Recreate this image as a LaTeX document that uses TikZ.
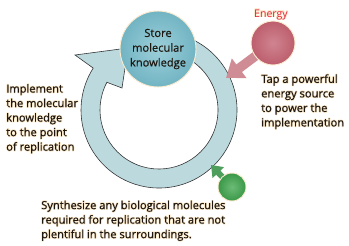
\documentclass[tikz,border=0pt]{standalone}
\usepackage{fontspec}
\setmainfont{Open Sans}
\usepackage{contour}
\contourlength{0.5pt}
\usetikzlibrary{arrows.meta,calc}

\definecolor{ringfill}{HTML}{BCD9DD}
\definecolor{storeouter}{HTML}{4F98AB}
\definecolor{storemid}{HTML}{72B4C3}
\definecolor{storeinner}{HTML}{9CCFD9}
\definecolor{energyouter}{HTML}{A23A4B}
\definecolor{energymid}{HTML}{BD5E6D}
\definecolor{energyinner}{HTML}{D08490}
\definecolor{energyarrow}{HTML}{D08C94}
\definecolor{synthouter}{HTML}{1D772E}
\definecolor{synthmid}{HTML}{3A9848}
\definecolor{synthinner}{HTML}{6CBB76}
\definecolor{syntharrow}{HTML}{4E9E5C}
\definecolor{labeltext}{HTML}{1E1710}
\definecolor{labelred}{HTML}{E8203A}
\definecolor{halo}{HTML}{FBEBD0}

\pgfdeclareradialshading{storeshade}{\pgfpoint{0bp}{0bp}}{color(0bp)=(storeinner); color(25bp)=(storemid); color(50bp)=(storeouter)}
\pgfdeclareradialshading{energyshade}{\pgfpoint{0bp}{0bp}}{color(0bp)=(energyinner); color(25bp)=(energymid); color(50bp)=(energyouter)}
\pgfdeclareradialshading{synthshade}{\pgfpoint{0bp}{0bp}}{color(0bp)=(synthinner); color(25bp)=(synthmid); color(50bp)=(synthouter)}

\newcommand{\glow}[1]{\contour{halo}{#1}}

\tikzset{
  orb/.style={circle, draw=halo, line width=0.8pt, inner sep=0pt},
  note/.style={align=left, anchor=west, inner sep=0pt, text=labeltext,
    font=\fontsize{9.5}{12.4}\selectfont\addfontfeature{FakeBold=0.4}},
}

\begin{document}
\begin{tikzpicture}[x=0.03cm, y=-0.03cm]
\useasboundingbox (0,0) rectangle (349,245);

% cycle ring with its arrow head
\coordinate (ringc) at (159,110);
\draw[fill=ringfill, draw=black!80, line width=0.5pt]
  ($(ringc)+(-80:78)$) arc[start angle=-80, end angle=212.5, radius=78]
  -- (75,55) -- (128,48) -- (122,88) -- ($(ringc)+(208:59)$)
  arc[start angle=208, end angle=-80, radius=59] -- cycle;

% store molecular knowledge
\node[orb, minimum size=2.28cm, shading=storeshade,
  align=center, text=labeltext, font=\fontsize{9.5}{12.6}\selectfont\addfontfeature{FakeBold=0.4}]
  (store) at (158,49) {Store\\molecular\\knowledge};

% energy source
\coordinate (energyc) at (273,43);
\coordinate (energytip) at (226,78);
\draw[energyarrow, line width=8pt, -{Triangle[width=20pt,length=14pt]}]
  (energyc) -- (energytip);
\node[orb, minimum size=1.32cm, shading=energyshade]
  (energy) at (energyc) {};
\node[text=labelred, font=\fontsize{9}{11}\selectfont] (energylabel) at (271,15) {\glow{Energy}};

% synthesis
\coordinate (synthc) at (232,187);
\coordinate (synthtip) at (211,165);
\draw[syntharrow, line width=5pt, -{Triangle[width=13pt,length=9pt]}]
  (synthc) -- (synthtip);
\node[orb, minimum size=0.84cm, shading=synthshade]
  (synth) at (synthc) {};

% notes
\node[note] (implement) at (6,119) {\glow{Implement}\\\glow{the molecular}\\\glow{knowledge}\\\glow{to the point}\\\glow{of replication}};
\node[note] (tap) at (261,102) {\glow{Tap a powerful}\\\glow{energy source}\\\glow{to power the}\\\glow{implementation}};
\node[note] (synthesize) at (41,221) {\glow{Synthesize any biological molecules}\\\glow{required for replication that are not}\\\glow{plentiful in the surroundings.}};
\end{tikzpicture}
\end{document}
